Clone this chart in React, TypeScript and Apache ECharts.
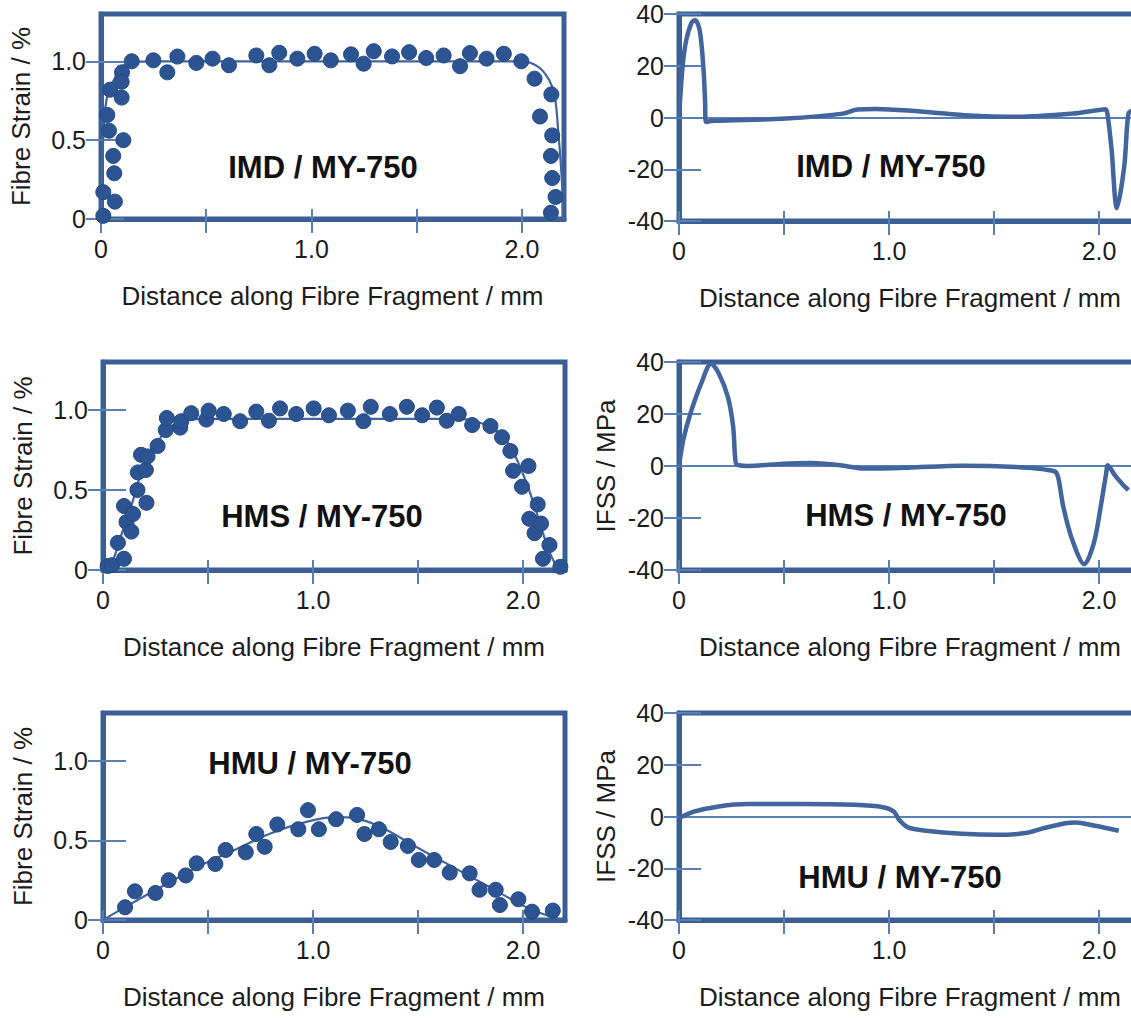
import React, { useEffect, useRef } from "react";
import * as echarts from "echarts";

// ---------- data (mm, % strain / MPa) ----------
const imdStrainPoints: [number, number][] = [
  [0.011, 0.02], [0.011, 0.17], [0.03, 0.66], [0.043, 0.82], [0.038, 0.56], [0.058, 0.4],
  [0.063, 0.29], [0.066, 0.11], [0.1, 0.93], [0.098, 0.87], [0.098, 0.77], [0.106, 0.5],
  [0.146, 1.0], [0.249, 1.006], [0.315, 0.93], [0.363, 1.03], [0.453, 0.99], [0.53, 1.017],
  [0.608, 0.975], [0.738, 1.037], [0.8, 0.975], [0.847, 1.054], [0.933, 1.017], [1.015, 1.048],
  [1.092, 1.006], [1.188, 1.044], [1.248, 0.985], [1.296, 1.064], [1.383, 1.031], [1.464, 1.058],
  [1.545, 1.021], [1.628, 1.037], [1.706, 0.969], [1.753, 1.052], [1.832, 1.017], [1.914, 1.048],
  [1.997, 1.0], [2.06, 0.89], [2.14, 0.79], [2.086, 0.65], [2.144, 0.53], [2.138, 0.4],
  [2.144, 0.26], [2.16, 0.14], [2.138, 0.04],
];
const imdStrainFit: [number, number][] = [
  [0, 0], [0.009, 0.45], [0.02, 0.7], [0.038, 0.82], [0.064, 0.89], [0.09, 0.955], [0.124, 0.985],
  [0.176, 0.998], [0.3, 1.0], [1.0, 1.0], [2.0, 1.0], [2.078, 0.965], [2.13, 0.88], [2.156, 0.78],
  [2.173, 0.55], [2.19, 0.24], [2.195, 0],
];
const imdIfss: [number, number][] = [
  [0, 0], [0.017, 19.5], [0.034, 29.7], [0.06, 36.7], [0.077, 37.6], [0.099, 33.5], [0.116, 19.5],
  [0.124, 6.7], [0.128, -1.7], [0.17, -1.3], [0.51, -0.4], [0.78, 1.5], [0.85, 3.1], [0.936, 3.3],
  [1.106, 2.6], [1.36, 0.9], [1.617, 0.26], [1.872, 1.5], [1.99, 2.8], [2.03, 3.2], [2.04, 1.5],
  [2.06, -12.5], [2.085, -35], [2.12, -19], [2.14, 1.5], [2.16, 2.8],
];

const hmsStrainPoints: [number, number][] = [
  [0.022, 0.025], [0.043, 0.03], [0.071, 0.17], [0.1, 0.07], [0.1, 0.4], [0.112, 0.3],
  [0.135, 0.24], [0.143, 0.35], [0.164, 0.5], [0.166, 0.61], [0.181, 0.72], [0.204, 0.625],
  [0.207, 0.42], [0.212, 0.71], [0.26, 0.775], [0.299, 0.875], [0.304, 0.95], [0.368, 0.89],
  [0.373, 0.93], [0.42, 0.98], [0.492, 0.94], [0.503, 0.996], [0.575, 0.975], [0.653, 0.93],
  [0.73, 0.99], [0.79, 0.933], [0.843, 1.01], [0.92, 0.975], [1.003, 1.01], [1.076, 0.967],
  [1.166, 0.996], [1.24, 0.93], [1.275, 1.02], [1.366, 0.975], [1.447, 1.02], [1.52, 0.967],
  [1.59, 1.015], [1.637, 0.933], [1.694, 0.975], [1.758, 0.906], [1.845, 0.9], [1.9, 0.83],
  [1.94, 0.744], [1.953, 0.62], [1.995, 0.52], [2.026, 0.65], [2.03, 0.32], [2.07, 0.41],
  [2.055, 0.23], [2.086, 0.29], [2.095, 0.07], [2.126, 0.156], [2.178, 0.02],
];
const hmsStrainFit: [number, number][] = [
  [0, 0], [0.04, 0.04], [0.09, 0.23], [0.135, 0.4], [0.17, 0.56], [0.21, 0.71], [0.264, 0.81],
  [0.316, 0.89], [0.385, 0.933], [0.47, 0.944], [1.0, 0.944], [1.7, 0.944], [1.78, 0.927],
  [1.87, 0.875], [1.94, 0.77], [2.0, 0.6], [2.05, 0.42], [2.095, 0.23], [2.13, 0.1], [2.17, 0],
];
const hmsIfss: [number, number][] = [
  [0, 0], [0.02, 9.9], [0.054, 20.1], [0.105, 31.6], [0.153, 39.3], [0.19, 35.5], [0.233, 26.5],
  [0.258, 15], [0.267, 3.5], [0.275, 0.6], [0.326, 0], [0.496, 0.9], [0.632, 1.15], [0.768, 0.26],
  [0.887, -1.0], [1.09, -0.64], [1.346, 0.13], [1.6, -0.4], [1.787, -2.0], [1.805, -4.2],
  [1.83, -15.7], [1.873, -28.5], [1.93, -37.8], [1.975, -29.8], [2.008, -15.7], [2.034, -2.9],
  [2.042, 0.26], [2.076, -3.6], [2.11, -6.8], [2.14, -9.3],
];

const hmuStrainPoints: [number, number][] = [
  [0.105, 0.08], [0.152, 0.18], [0.25, 0.17], [0.313, 0.25], [0.394, 0.28], [0.446, 0.356],
  [0.535, 0.352], [0.584, 0.44], [0.68, 0.425], [0.73, 0.54], [0.77, 0.46], [0.83, 0.6],
  [0.93, 0.57], [0.976, 0.69], [1.028, 0.57], [1.11, 0.633], [1.21, 0.66], [1.245, 0.54],
  [1.314, 0.57], [1.37, 0.49], [1.452, 0.465], [1.504, 0.377], [1.577, 0.377], [1.651, 0.298],
  [1.746, 0.293], [1.793, 0.19], [1.87, 0.19], [1.89, 0.094], [1.978, 0.13], [2.043, 0.052],
  [2.142, 0.059],
];
const hmuStrainFit: [number, number][] = [
  [0, 0], [0.109, 0.084], [0.28, 0.21], [0.454, 0.335], [0.627, 0.44], [0.8, 0.545], [0.972, 0.618],
  [1.11, 0.646], [1.197, 0.64], [1.318, 0.587], [1.49, 0.46], [1.663, 0.335], [1.836, 0.21],
  [2.01, 0.084], [2.095, 0.038], [2.19, 0],
];
const hmuIfss: [number, number][] = [
  [0, -0.6], [0.071, 1.9], [0.19, 3.9], [0.326, 4.8], [0.58, 4.8], [0.836, 4.5], [0.972, 3.6],
  [1.023, 1.9], [1.048, -1.3], [1.09, -4.2], [1.176, -5.5], [1.346, -6.7], [1.516, -7.1],
  [1.65, -6.4], [1.737, -4.5], [1.84, -2.6], [1.89, -2.3], [1.975, -3.5], [2.094, -5.5],
];

const xTickValues = [0, 0.5, 1, 1.5, 2];
const xLabelValues = [0, 1, 2];
const strainTickValues = [0, 0.5, 1];
const xAxisTitle = "Distance along Fibre Fragment / mm";
const strainAxisTitle = "Fibre Strain / %";
const ifssAxisTitle = "IFSS / MPa";

// ---------- style ----------
const FONT = '"Liberation Sans", Arial, Helvetica, sans-serif';
const BORDER = "#3a5f95";
const TICK = "#5a7fb5";
const LINE = "#41659c";
const TEXT = "#1c1c1c";
const DOT = "#2c5492";

type Panel = {
  kind: "strain" | "ifss";
  title: string;
  grid: { left: number; top: number; width: number; height: number };
  titlePos: [number, number];
  yName: string | null;
  points?: [number, number][];
  line: [number, number][];
};

const panels: Panel[] = [
  { kind: "strain", title: "IMD / MY-750", grid: { left: 101, top: 14, width: 463, height: 205 }, titlePos: [323, 167], yName: strainAxisTitle, points: imdStrainPoints, line: imdStrainFit },
  { kind: "ifss", title: "IMD / MY-750", grid: { left: 679, top: 14, width: 462, height: 207 }, titlePos: [891, 166], yName: null, line: imdIfss },
  { kind: "strain", title: "HMS / MY-750", grid: { left: 103, top: 362, width: 462, height: 208 }, titlePos: [322, 516], yName: strainAxisTitle, points: hmsStrainPoints, line: hmsStrainFit },
  { kind: "ifss", title: "HMS / MY-750", grid: { left: 679, top: 362, width: 462, height: 208 }, titlePos: [906, 515], yName: ifssAxisTitle, line: hmsIfss },
  { kind: "strain", title: "HMU / MY-750", grid: { left: 103, top: 713, width: 462, height: 207 }, titlePos: [310, 763], yName: strainAxisTitle, points: hmuStrainPoints, line: hmuStrainFit },
  { kind: "ifss", title: "HMU / MY-750", grid: { left: 679, top: 713, width: 462, height: 207 }, titlePos: [900, 877], yName: ifssAxisTitle, line: hmuIfss },
];

function buildOption() {
  const grid: any[] = [];
  const xAxis: any[] = [];
  const yAxis: any[] = [];
  const series: any[] = [];
  const graphic: any[] = [];

  panels.forEach((p, i) => {
    grid.push({
      ...p.grid,
      show: true,
      borderColor: BORDER,
      borderWidth: 5,
      backgroundColor: "transparent",
      containLabel: false,
    });
    const xi = xAxis.length;
    xAxis.push({
      gridIndex: i,
      type: "value",
      min: 0,
      max: 2.2,
      position: "bottom",
      axisLine: { show: true, onZero: false, lineStyle: { color: BORDER, width: 5 } },
      axisTick: { show: true, inside: false, length: 14, customValues: xTickValues, lineStyle: { color: TICK, width: 2 } },
      axisLabel: {
        customValues: xLabelValues,
        formatter: (v: number) => (v === 0 ? "0" : v.toFixed(1)),
        margin: 17,
        fontSize: 25,
        color: TEXT,
        fontFamily: FONT,
      },
      splitLine: { show: false },
      name: xAxisTitle,
      nameLocation: "middle",
      nameGap: 64,
      nameTextStyle: { fontSize: 26, color: TEXT, fontFamily: FONT },
    });
    xAxis.push({
      gridIndex: i,
      type: "value",
      min: 0,
      max: 2.2,
      position: "bottom",
      axisLine: { show: false, onZero: false },
      axisTick: { show: true, inside: true, length: 10, customValues: xTickValues, lineStyle: { color: TICK, width: 2 } },
      axisLabel: { show: false },
      splitLine: { show: false },
    });

    const yi = yAxis.length;
    const isStrain = p.kind === "strain";
    const yBase: any = isStrain
      ? { min: 0, max: 1.3 }
      : { min: -40, max: 40, interval: 20 };
    yAxis.push({
      gridIndex: i,
      type: "value",
      ...yBase,
      position: "left",
      axisLine: { show: true, onZero: false, lineStyle: { color: BORDER, width: 5 } },
      axisTick: isStrain
        ? { show: true, inside: false, length: 15, customValues: strainTickValues, lineStyle: { color: TICK, width: 2 } }
        : { show: true, inside: false, length: 15, lineStyle: { color: TICK, width: 2 } },
      axisLabel: isStrain
        ? {
            customValues: strainTickValues,
            formatter: (v: number) => (v === 0 ? "0" : v.toFixed(1)),
            margin: 15,
            fontSize: 25,
            color: TEXT,
            fontFamily: FONT,
          }
        : { margin: 15, fontSize: 25, color: TEXT, fontFamily: FONT },
      splitLine: { show: false },
      name: p.yName ?? "",
      nameLocation: "middle",
      nameGap: isStrain ? 67 : 60,
      nameTextStyle: { fontSize: 26, color: TEXT, fontFamily: FONT },
    });
    yAxis.push({
      gridIndex: i,
      type: "value",
      ...yBase,
      position: "left",
      axisLine: { show: false, onZero: false },
      axisTick: isStrain
        ? { show: true, inside: true, length: 23, customValues: strainTickValues, lineStyle: { color: TICK, width: 2 } }
        : { show: true, inside: true, length: 22, lineStyle: { color: TICK, width: 2 } },
      axisLabel: { show: false },
      splitLine: { show: false },
    });

    if (isStrain) {
      series.push({
        type: "line",
        xAxisIndex: xi,
        yAxisIndex: yi,
        data: p.line,
        showSymbol: false,
        smooth: 0.35,
        lineStyle: { color: LINE, width: 2.2 },
        z: 2,
      });
      series.push({
        type: "scatter",
        xAxisIndex: xi,
        yAxisIndex: yi,
        data: p.points,
        symbol: "circle",
        symbolSize: 15,
        itemStyle: { color: DOT, opacity: 1, borderColor: "#234a84", borderWidth: 1 },
        z: 3,
      });
    } else {
      series.push({
        type: "line",
        xAxisIndex: xi,
        yAxisIndex: yi,
        data: p.line,
        showSymbol: false,
        smooth: 0.3,
        lineStyle: { color: LINE, width: 4.5 },
        z: 3,
        markLine: {
          silent: true,
          symbol: "none",
          label: { show: false },
          lineStyle: { color: TICK, width: 1.8, type: "solid" },
          data: [{ yAxis: 0 }],
          z: 2,
        },
      });
    }

    graphic.push({
      type: "text",
      x: p.titlePos[0],
      y: p.titlePos[1],
      z: 10,
      style: {
        text: p.title,
        fill: "#111",
        font: `bold 31px ${FONT}`,
        align: "center",
        verticalAlign: "middle",
        textAlign: "center",
        textVerticalAlign: "middle",
      },
    });
  });

  return {
    animation: false,
    backgroundColor: "#ffffff",
    grid,
    xAxis,
    yAxis,
    series,
    graphic,
  };
}

export default function App() {
  const ref = useRef<HTMLDivElement>(null);
  useEffect(() => {
    document.body.style.margin = "0";
    document.body.style.overflow = "hidden";
    if (!ref.current) return;
    const chart = echarts.init(ref.current, null, { renderer: "svg" });
    chart.setOption(buildOption() as any);
    return () => chart.dispose();
  }, []);
  return (
    <div
      ref={ref}
      style={{ position: "fixed", left: 0, top: 0, width: 1160, height: 1018, background: "#fff" }}
    />
  );
}
